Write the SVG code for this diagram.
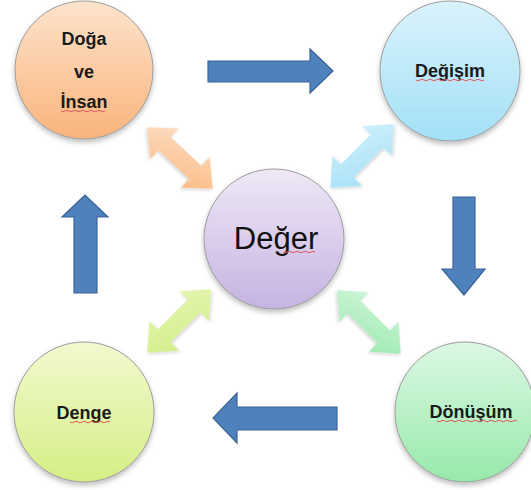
<svg xmlns="http://www.w3.org/2000/svg" width="531" height="490" viewBox="0 0 531 490">
<defs>
<linearGradient id="gOr" x1="0" y1="0" x2="0" y2="1"><stop offset="0" stop-color="#fde3cc"/><stop offset="1" stop-color="#fab47c"/></linearGradient>
<linearGradient id="gBl" x1="0" y1="0" x2="0" y2="1"><stop offset="0" stop-color="#daf3fc"/><stop offset="1" stop-color="#a3e0f7"/></linearGradient>
<linearGradient id="gPu" x1="0" y1="0" x2="0" y2="1"><stop offset="0" stop-color="#efe8f6"/><stop offset="1" stop-color="#c6b3e2"/></linearGradient>
<linearGradient id="gYe" x1="0" y1="0" x2="0" y2="1"><stop offset="0" stop-color="#f2f9cf"/><stop offset="1" stop-color="#d5ef86"/></linearGradient>
<linearGradient id="gGr" x1="0" y1="0" x2="0" y2="1"><stop offset="0" stop-color="#dcf8e3"/><stop offset="1" stop-color="#97e9ab"/></linearGradient>
<linearGradient id="aOr" x1="0" y1="0" x2="1" y2="1"><stop offset="0" stop-color="#fde0c8"/><stop offset="1" stop-color="#fbb87f"/></linearGradient>
<linearGradient id="aBl" x1="1" y1="0" x2="0" y2="1"><stop offset="0" stop-color="#d2f1fb"/><stop offset="1" stop-color="#a3e0f7"/></linearGradient>
<linearGradient id="aYe" x1="1" y1="0" x2="0" y2="1"><stop offset="0" stop-color="#e6f6b4"/><stop offset="1" stop-color="#d0ee86"/></linearGradient>
<linearGradient id="aGr" x1="0" y1="0" x2="1" y2="1"><stop offset="0" stop-color="#d2f6dc"/><stop offset="1" stop-color="#9ae9ae"/></linearGradient>
<filter id="sh" x="-20%" y="-20%" width="140%" height="150%"><feDropShadow dx="0" dy="3" stdDeviation="2.5" flood-color="#000" flood-opacity="0.25"/></filter>
<filter id="sh2" x="-20%" y="-20%" width="140%" height="150%"><feDropShadow dx="0" dy="2" stdDeviation="1.5" flood-color="#000" flood-opacity="0.18"/></filter>
<path id="dbl" d="M-45,0 L-21,-21 L-21,-9 L21,-9 L21,-21 L45,0 L21,21 L21,9 L-21,9 L-21,21 Z"/>
</defs>
<style>
.c{stroke:#9c9c9c;stroke-width:1;filter:url(#sh)}
.t{font-family:"Liberation Sans",Arial,sans-serif;font-weight:bold;font-size:18px;fill:#1a1a1a;text-anchor:middle}
.big{font-family:"Liberation Sans",Arial,sans-serif;font-size:31px;fill:#111;text-anchor:middle}
.blue{fill:#4f81bd;stroke:#3a6494;stroke-width:1.2}
.sq{stroke:#e05a5a;stroke-width:1;fill:none}
.d{filter:url(#sh2)}
</style>
<rect width="531" height="490" fill="#ffffff"/>
<g id="connectors">
<polygon class="blue" points="208,61 310,61 310,49 333,71 310,93 310,82 208,82"/>
<polygon class="blue" points="453,197 475,197 475,269 485,269 464,295 442,269 453,269"/>
<polygon class="blue" points="337,407 337,430 237,430 237,443 213,418 237,393 237,407"/>
<polygon class="blue" points="74,293 97,293 97,217 108,217 85,195 62,217 74,217"/>
<use href="#dbl" class="d" fill="url(#aOr)" transform="translate(180,158) rotate(43)"/>
<use href="#dbl" class="d" fill="url(#aBl)" transform="translate(362,156) rotate(-45)"/>
<use href="#dbl" class="d" fill="url(#aYe)" transform="translate(179,321) rotate(-45)"/>
<use href="#dbl" class="d" fill="url(#aGr)" transform="translate(369,322) rotate(45)"/>
</g>
<g id="doga">
<circle class="c" cx="84" cy="70" r="69" fill="url(#gOr)"/>
<text class="t" x="84" y="45">Doğa</text>
<text class="t" x="84" y="78">ve</text>
<text class="t" x="84" y="108">İnsan</text>
<path class="sq" d="M61,111 q2,1.5 4,0 t4,0 t4,0 t4,0 t4,0 t4,0 t4,0 t4,0 t4,0 t4,0 t4,0"/>
</g>
<g id="degisim">
<circle class="c" cx="450" cy="71" r="70" fill="url(#gBl)"/>
<text class="t" x="450" y="77">Değişim</text>
<path class="sq" d="M416,80 q2,1.5 4,0 t4,0 t4,0 t4,0 t4,0 t4,0 t4,0 t4,0 t4,0 t4,0 t4,0 t4,0 t4,0 t4,0 t4,0 t4,0 t4,0"/>
</g>
<g id="deger">
<circle class="c" cx="274" cy="239" r="70" fill="url(#gPu)"/>
<text class="big" x="276" y="249">Değer</text>
<path class="sq" d="M283,252 q2,1.5 4,0 t4,0 t4,0 t4,0 t4,0 t4,0 t4,0 t4,0"/>
</g>
<g id="denge">
<circle class="c" cx="84" cy="412" r="70" fill="url(#gYe)"/>
<text class="t" x="84" y="419">Denge</text>
<path class="sq" d="M70,422 q2,1.5 4,0 t4,0 t4,0 t4,0 t4,0 t4,0 t4,0 t4,0 t4,0 t4,0"/>
</g>
<g id="donusum">
<circle class="c" cx="465" cy="412" r="70" fill="url(#gGr)"/>
<text class="t" x="471" y="418">Dönüşüm</text>
<path class="sq" d="M437,421 q2,1.5 4,0 t4,0 t4,0 t4,0 t4,0 t4,0 t4,0 t4,0 t4,0 t4,0 t4,0 t4,0 t4,0 t4,0 t4,0 t4,0 t4,0 t4,0 t4,0 t4,0"/>
</g>
</svg>
